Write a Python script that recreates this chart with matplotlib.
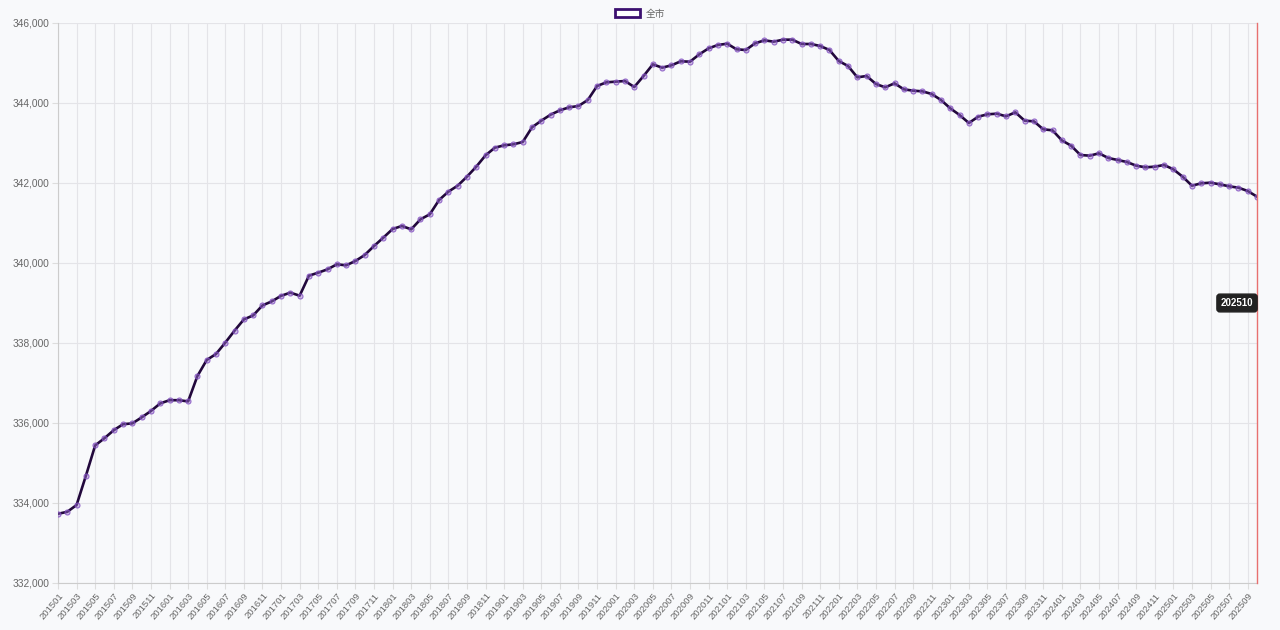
import numpy as np
import matplotlib
matplotlib.use("Agg")
import matplotlib.pyplot as plt
from matplotlib.patches import Patch

plt.rcParams['font.family'] = ['Liberation Sans', 'Noto Sans CJK SC', 'DejaVu Sans']

# monthly labels 201501 .. 202510
months = ['{}{:02d}'.format(y, m) for y in range(2015, 2026) for m in range(1, 13)][:130]

# population
population = [
    333730, 333780, 333950, 334680, 335440, 335620, 335820, 335970, 335990, 336140,
    336300, 336490, 336570, 336570, 336540, 337175, 337575, 337725, 338010, 338310,
    338590, 338690, 338940, 339040, 339180, 339258, 339183, 339683, 339758, 339842,
    339967, 339942, 340050, 340200, 340425, 340633, 340850, 340925, 340842, 341092,
    341217, 341575, 341783, 341933, 342158, 342408, 342692, 342883, 342942, 342967,
    343025, 343392, 343558, 343708, 343817, 343892, 343925, 344075, 344425, 344517,
    344533, 344550, 344400, 344675, 344967, 344883, 344942, 345042, 345033, 345217,
    345367, 345450, 345483, 345342, 345325, 345492, 345567, 345533, 345583, 345583,
    345475, 345475, 345425, 345325, 345050, 344925, 344642, 344675, 344475, 344392,
    344492, 344342, 344308, 344292, 344225, 344075, 343867, 343700, 343500, 343658,
    343717, 343733, 343667, 343767, 343558, 343542, 343342, 343317, 343067, 342933,
    342700, 342683, 342742, 342625, 342575, 342525, 342433, 342392, 342408, 342450,
    342342, 342158, 341933, 341992, 342008, 341967, 341917, 341883, 341800, 341658,
]

bg = '#f8f9fb'
line_color = '#22083c'

fig = plt.figure(figsize=(12.8, 6.3), dpi=100, facecolor=bg)
ax = fig.add_axes([58 / 1280, 47 / 630, (1257 - 58) / 1280, 560 / 630])
ax.set_facecolor(bg)

x = np.arange(len(population))
ax.plot(x, population, color=line_color, linewidth=1.9, zorder=3)
ax.plot(x, population, linestyle='none', marker='o', markersize=3.6,
        markerfacecolor=(0.62, 0.45, 0.82, 0.45), markeredgecolor=(0.5, 0.3, 0.75, 0.8),
        markeredgewidth=0.8, zorder=4)

ax.set_xlim(0, len(population) - 1)
ax.set_ylim(332000, 346000)
ax.set_yticks(np.arange(332000, 346001, 2000))
ax.set_yticklabels(['{:,}'.format(v) for v in range(332000, 346001, 2000)],
                   fontsize=7.3, color='#666666')
ticks = x[::2]
ax.set_xticks(ticks)
ax.set_xticklabels([months[i] for i in ticks], rotation=50, ha='right',
                   rotation_mode='anchor', fontsize=6.8, color='#666666')
ax.tick_params(axis='both', length=4, color='#dddddd', pad=2)

ax.grid(True, color='#e4e4e8', linewidth=0.8, zorder=0)
for s in ['top', 'right']:
    ax.spines[s].set_visible(False)
for s in ['left', 'bottom']:
    ax.spines[s].set_color('#cccccc')

# current month marker
ax.axvline(len(population) - 1, color='#e87070', linewidth=1.0, zorder=5, clip_on=False)
ax.text(len(population) - 1.4, 339000, months[-1], ha='right', va='center',
        fontsize=7, fontweight='bold', color='white', zorder=6,
        bbox=dict(boxstyle='round,pad=0.4,rounding_size=0.3', facecolor='#222222',
                  edgecolor='#222222'))

handle = Patch(facecolor='white', edgecolor='#3c1070', linewidth=2)
fig.legend([handle], ['全市'], loc='upper center', bbox_to_anchor=(0.5, 1.0),
           frameon=False, fontsize=7, labelcolor='#666666',
           handlelength=2.6, handleheight=0.9, handletextpad=0.5)

fig.savefig('out.png', dpi=100, facecolor=bg)
